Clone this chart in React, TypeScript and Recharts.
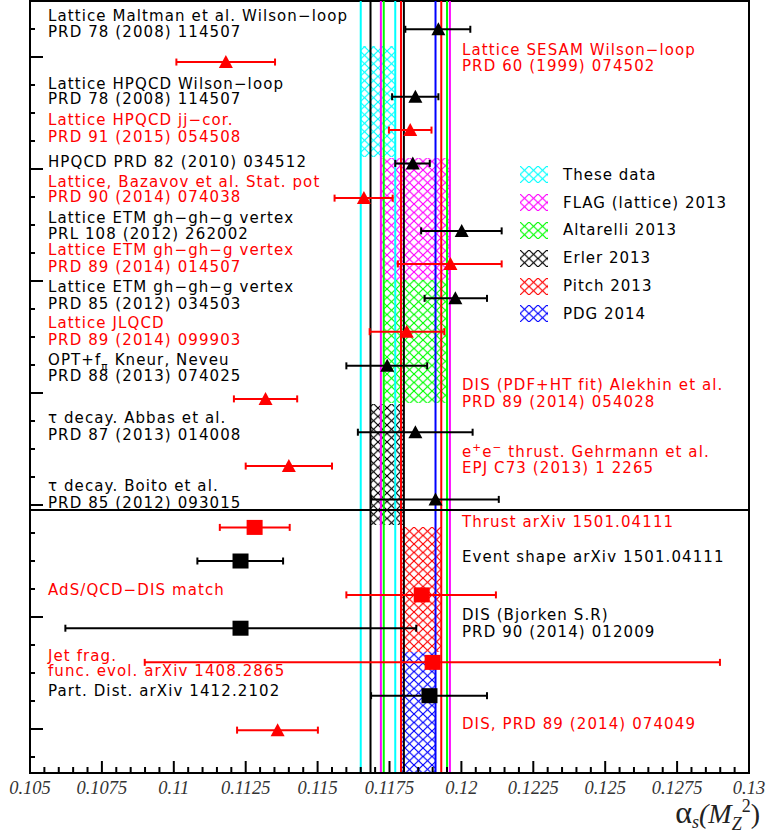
import React from 'react';
import {
  ComposedChart,
  Scatter,
  XAxis,
  YAxis,
  ReferenceArea,
  ReferenceLine,
  ErrorBar,
  Legend,
} from 'recharts';

// ---------- axes ----------
const X_MIN = 0.105;
const X_MAX = 0.13;
const Y_MAX = 27.571;
const xMajorTicks = [0.105, 0.1075, 0.11, 0.1125, 0.115, 0.1175, 0.12, 0.1225, 0.125, 0.1275, 0.13];
const xTickLabels = ['0.105', '0.1075', '0.11', '0.1125', '0.115', '0.1175', '0.12', '0.1225', '0.125', '0.1275', '0.13'];
const X_MINOR_STEP = 0.0005;
const yTicks = [1, 2, 3, 4, 5, 6, 7, 8, 9, 10, 11, 12, 13, 14, 15, 16, 17, 18, 19, 20, 21, 22, 23, 24, 25, 26, 27];
const yMajorTicks = [2, 6, 10, 14, 18, 22, 26];
const SECTION_DIVIDER = 18.18;

// ---------- measurements ----------
const redTriangleValues = [0.11181, 0.11822, 0.11661, 0.11962, 0.1181, 0.11319, 0.114, 0.11361];
const redTriangleLow = [0.11009, 0.11748, 0.11559, 0.11779, 0.11681, 0.11209, 0.1125, 0.1122];
const redTriangleHigh = [0.11352, 0.11896, 0.11761, 0.1214, 0.11941, 0.11429, 0.1155, 0.11501];
const redTriangleRows = [2.18, 4.61, 7.04, 9.39, 11.81, 14.21, 16.61, 26.04];

const blackTriangleValues = [0.1192, 0.1184, 0.11831, 0.12001, 0.11979, 0.11742, 0.1184, 0.1191];
const blackTriangleLow = [0.11805, 0.11759, 0.1177, 0.1186, 0.11872, 0.116, 0.1164, 0.11686];
const blackTriangleHigh = [0.12031, 0.1192, 0.1189, 0.1214, 0.12089, 0.11881, 0.12039, 0.1213];
const blackTriangleRows = [1.01, 3.42, 5.8, 8.21, 10.62, 13.03, 15.4, 17.8];

const redSquareValues = [0.11281, 0.11862, 0.119];
const redSquareLow = [0.1116, 0.116, 0.10899];
const redSquareHigh = [0.11403, 0.1212, 0.12899];
const redSquareRows = [18.8, 21.21, 23.62];

const blackSquareValues = [0.11232, 0.11232, 0.11889];
const blackSquareLow = [0.11082, 0.10623, 0.11686];
const blackSquareHigh = [0.1138, 0.11843, 0.12089];
const blackSquareRows = [20.0, 22.4, 24.81];

// ---------- world-average bands ----------
const bandNames = ['These data', 'FLAG (lattice) 2013', 'Altarelli 2013', 'Erler 2013', 'Pitch 2013', 'PDG 2014'];
const bandColors = ['#00ffff', '#ff00ff', '#00ff00', '#000000', '#ff0000', '#0000ff'];
const bandLow = [0.1165, 0.1172, 0.1173, 0.11684, 0.1179, 0.1179];
const bandHigh = [0.1177, 0.1196, 0.1195, 0.118, 0.1193, 0.1191];
const bandRowFrom = [1.607, 5.607, 9.964, 14.393, 18.786, 23.25];
const bandRowTo = [5.571, 9.964, 14.357, 18.714, 23.25, 27.571];

// ---------- annotations ----------
const LEFT_LABEL_X = 0.105625;
const RIGHT_LABEL_X = 0.12002;
const leftLabelText = [
  'Lattice Maltman et al. Wilson\u2212loop',
  'PRD 78 (2008) 114507',
  'Lattice HPQCD Wilson\u2212loop',
  'PRD 78 (2008) 114507',
  'Lattice HPQCD jj\u2212cor.',
  'PRD 91 (2015) 054508',
  'HPQCD PRD 82 (2010) 034512',
  'Lattice, Bazavov et al. Stat. pot',
  'PRD 90 (2014) 074038',
  'Lattice ETM gh\u2212gh\u2212g vertex',
  'PRL 108 (2012) 262002',
  'Lattice ETM gh\u2212gh\u2212g vertex',
  'PRD 89 (2014) 014507',
  'Lattice ETM gh\u2212gh\u2212g vertex',
  'PRD 85 (2012) 034503',
  'Lattice JLQCD',
  'PRD 89 (2014) 099903',
  'OPT+f_{\u03c0} Kneur, Neveu',
  'PRD 88 (2013) 074025',
  '\u03c4 decay. Abbas et al.',
  'PRD 87 (2013) 014008',
  '\u03c4 decay. Boito et al.',
  'PRD 85 (2012) 093015',
  'AdS/QCD\u2212DIS match',
  'Jet frag.',
  'func. evol. arXiv 1408.2865',
  'Part. Dist. arXiv 1412.2102',
];
const leftLabelColor = [
  'black', 'black', 'black', 'black', 'red', 'red', 'black', 'red', 'red', 'black', 'black', 'red', 'red',
  'black', 'black', 'red', 'red', 'black', 'black', 'black', 'black', 'black', 'black', 'red', 'red', 'red', 'black',
];
const leftLabelRow = [
  0.704, 1.296, 3.143, 3.689, 4.429, 5.025, 5.918, 6.632, 7.189, 7.918, 8.511, 9.071, 9.668,
  10.404, 11.0, 11.689, 12.286, 13.0, 13.571, 15.082, 15.679, 17.5, 18.096, 21.214, 23.561, 24.096, 24.821,
];

const rightLabelText = [
  'Lattice SESAM Wilson\u2212loop',
  'PRD 60 (1999) 074502',
  'DIS (PDF+HT fit) Alekhin et al.',
  'PRD 89 (2014) 054028',
  'e^{+}e^{\u2212} thrust. Gehrmann et al.',
  'EPJ C73 (2013) 1 2265',
  'Thrust arXiv 1501.04111',
  'Event shape arXiv 1501.04111',
  'DIS (Bjorken S.R)',
  'PRD 90 (2014) 012009',
  'DIS, PRD 89 (2014) 074049',
];
const rightLabelColor = ['red', 'red', 'red', 'red', 'red', 'red', 'red', 'black', 'black', 'black', 'red'];
const rightLabelRow = [1.929, 2.489, 13.893, 14.489, 16.296, 16.868, 18.796, 20.025, 22.107, 22.704, 26.011];

// ---------- helpers ----------
const FONT = '"DejaVu Sans", sans-serif';
const SERIF = '"Liberation Serif", "Times New Roman", serif';
const COLOR: Record<string, string> = { red: '#ff0000', black: '#000000' };
const LABEL_SIZE = 15;
const LABEL_SPACING = 1.1;

const toPoints = (v: number[], lo: number[], hi: number[], rows: number[]) =>
  v.map((x, i) => ({ x, y: rows[i], err: [x - lo[i], hi[i] - x] }));

const redTriangles = toPoints(redTriangleValues, redTriangleLow, redTriangleHigh, redTriangleRows);
const blackTriangles = toPoints(blackTriangleValues, blackTriangleLow, blackTriangleHigh, blackTriangleRows);
const redSquares = toPoints(redSquareValues, redSquareLow, redSquareHigh, redSquareRows);
const blackSquares = toPoints(blackSquareValues, blackSquareLow, blackSquareHigh, blackSquareRows);

const labels = [
  ...leftLabelText.map((t, i) => ({ x: LEFT_LABEL_X, y: leftLabelRow[i], text: t, color: COLOR[leftLabelColor[i]] })),
  ...rightLabelText.map((t, i) => ({ x: RIGHT_LABEL_X, y: rightLabelRow[i], text: t, color: COLOR[rightLabelColor[i]] })),
];

const xAllTicks: number[] = [];
for (let k = 0; k <= Math.round((X_MAX - X_MIN) / X_MINOR_STEP); k++) xAllTicks.push(+(X_MIN + k * X_MINOR_STEP).toFixed(5));

// draw order of the band edges: PDG first so the Pitch edge stays visible on top
const bandLineOrder = [5, 4, 3, 2, 1, 0];

const RichText = ({ x, y, text, fill, fontSize }: any) => {
  const tokens = text.split(/(_\{[^}]*\}|\^\{[^}]*\})/).filter((s: string) => s.length > 0);
  let shift = 0;
  return (
    <text x={x} y={y} fill={fill} fontSize={fontSize} fontFamily={FONT} letterSpacing={LABEL_SPACING}>
      {tokens.map((t: string, i: number) => {
        let target = 0;
        let content = t;
        let size = fontSize;
        if (t.startsWith('_{')) {
          target = fontSize * 0.3;
          content = t.slice(2, -1);
          size = fontSize * 0.7;
        } else if (t.startsWith('^{')) {
          target = -fontSize * 0.4;
          content = t.slice(2, -1);
          size = fontSize * 0.7;
        }
        const dy = target - shift;
        shift = target;
        return (
          <tspan key={i} dy={dy} fontSize={size}>
            {content}
          </tspan>
        );
      })}
    </text>
  );
};

const Triangle = (p: any) => {
  const { cx, cy, fill } = p;
  return <polygon points={`${cx},${cy - 7} ${cx + 7},${cy + 6} ${cx - 7},${cy + 6}`} fill={fill} />;
};
const Square = (p: any) => {
  const { cx, cy, fill } = p;
  return <rect x={cx - 8} y={cy - 7.5} width={16} height={15} fill={fill} />;
};

const XTick = (props: any) => {
  const { x, y, payload } = props;
  const idx = xMajorTicks.findIndex((m) => Math.abs(m - payload.value) < 1e-7);
  const major = idx >= 0;
  return (
    <g>
      <line x1={x} x2={x} y1={y} y2={y - (major ? 12 : 6)} stroke="#000" strokeWidth={2} />
      {major && (
        <text x={x} y={y + 21} textAnchor="middle" fontFamily={SERIF} fontStyle="italic" fontSize={18.5} fill="#333">
          {xTickLabels[idx]}
        </text>
      )}
    </g>
  );
};

const YTick = (props: any) => {
  const { x, y, payload } = props;
  const major = yMajorTicks.includes(payload.value);
  return <line x1={x} x2={x + (major ? 13 : 5)} y1={y} y2={y} stroke="#000" strokeWidth={2} />;
};

const Swatch = ({ color, id }: { color: string; id: string }) => (
  <svg width={28} height={17} style={{ display: 'block' }}>
    <defs>
      <pattern id={id} patternUnits="userSpaceOnUse" width={9} height={8.5}>
        <path d="M0,0 L9,8.5 M9,0 L0,8.5" stroke={color} strokeWidth={1.2} />
      </pattern>
    </defs>
    <rect x={0} y={0} width={28} height={17} fill={`url(#${id})`} />
  </svg>
);

const LegendBox = () => (
  <div style={{ fontFamily: FONT, fontSize: 15, letterSpacing: 1, color: '#000' }}>
    {bandNames.map((n, i) => (
      <div key={n} style={{ display: 'flex', alignItems: 'center', height: 27.8 }}>
        <Swatch color={bandColors[i]} id={`legend-hatch-${i}`} />
        <span style={{ marginLeft: 15, whiteSpace: 'nowrap' }}>{n}</span>
      </div>
    ))}
  </div>
);

const AxisTitle = (props: any) => {
  const vb = props.viewBox || {};
  const x = (vb.x || 0) + (vb.width || 0) + 11;
  const y = (vb.y || 0) + 50;
  return (
    <text x={x} y={y} textAnchor="end" fontFamily={SERIF} fontSize={28} fill="#222">
      <tspan fontSize={32}>α</tspan>
      <tspan fontSize={18} fontStyle="italic" dy={5}>s</tspan>
      <tspan fontStyle="italic" dy={-5}>(M</tspan>
      <tspan fontSize={18} fontStyle="italic" dy={7}>Z</tspan>
      <tspan fontSize={18} dy={-18}>2</tspan>
      <tspan dy={11}>)</tspan>
    </text>
  );
};

export default function App() {
  return (
    <div style={{ position: 'absolute', left: 0, top: 0, background: '#fff' }}>
      <ComposedChart width={766} height={834} margin={{ top: 1, right: 17, bottom: 0, left: 0 }}>
        <defs>
          {bandColors.map((c, i) => (
            <pattern key={i} id={`hatch-${i}`} patternUnits="userSpaceOnUse" width={9} height={8.5}>
              <path d="M0,0 L9,8.5 M9,0 L0,8.5" stroke={c} strokeWidth={1.2} />
            </pattern>
          ))}
        </defs>
        <XAxis
          type="number"
          dataKey="x"
          domain={[X_MIN, X_MAX]}
          allowDataOverflow
          ticks={xAllTicks}
          interval={0}
          tickLine={false}
          tickSize={0}
          tickMargin={0}
          tick={<XTick />}
          axisLine={{ stroke: '#000', strokeWidth: 2 }}
          height={61}
          label={<AxisTitle />}
        />
        <YAxis
          type="number"
          dataKey="y"
          domain={[0, Y_MAX]}
          reversed
          allowDataOverflow
          ticks={yTicks}
          interval={0}
          tickLine={false}
          tickSize={0}
          tickMargin={0}
          tick={<YTick />}
          axisLine={{ stroke: '#000', strokeWidth: 2 }}
          width={30}
        />
        {bandNames.map((n, i) => (
          <ReferenceArea
            key={`area-${n}`}
            x1={bandLow[i]}
            x2={bandHigh[i]}
            y1={bandRowFrom[i]}
            y2={bandRowTo[i]}
            fill={`url(#hatch-${i})`}
            fillOpacity={1}
            stroke="none"
            ifOverflow="hidden"
          />
        ))}
        {bandLineOrder.map((i) => (
          <ReferenceLine key={`lo-${bandNames[i]}`} x={bandLow[i]} stroke={bandColors[i]} strokeWidth={2} />
        ))}
        {bandLineOrder.map((i) => (
          <ReferenceLine key={`hi-${bandNames[i]}`} x={bandHigh[i]} stroke={bandColors[i]} strokeWidth={2} />
        ))}
        <ReferenceLine y={SECTION_DIVIDER} stroke="#000" strokeWidth={2} />
        <ReferenceArea x1={X_MIN} x2={X_MAX} y1={0} y2={Y_MAX} fill="none" stroke="#000" strokeWidth={2} />
        <Scatter data={redTriangles} fill="#ff0000" shape={<Triangle />} isAnimationActive={false}>
          <ErrorBar dataKey="err" direction="x" width={3.5} stroke="#ff0000" strokeWidth={2} isAnimationActive={false} />
        </Scatter>
        <Scatter data={blackTriangles} fill="#000000" shape={<Triangle />} isAnimationActive={false}>
          <ErrorBar dataKey="err" direction="x" width={3.5} stroke="#000000" strokeWidth={2} isAnimationActive={false} />
        </Scatter>
        <Scatter data={redSquares} fill="#ff0000" shape={<Square />} isAnimationActive={false}>
          <ErrorBar dataKey="err" direction="x" width={3.5} stroke="#ff0000" strokeWidth={2} isAnimationActive={false} />
        </Scatter>
        <Scatter data={blackSquares} fill="#000000" shape={<Square />} isAnimationActive={false}>
          <ErrorBar dataKey="err" direction="x" width={3.5} stroke="#000000" strokeWidth={2} isAnimationActive={false} />
        </Scatter>
        <Scatter
          data={labels}
          isAnimationActive={false}
          shape={(p: any) => (
            <RichText x={p.cx} y={p.cy} text={p.payload.text} fill={p.payload.color} fontSize={LABEL_SIZE} />
          )}
        />
        <Legend
          layout="vertical"
          align="center"
          verticalAlign="middle"
          content={() => <LegendBox />}
          wrapperStyle={{ position: 'absolute', left: 520, top: 161, width: 240, height: 170 }}
        />
      </ComposedChart>
    </div>
  );
}
